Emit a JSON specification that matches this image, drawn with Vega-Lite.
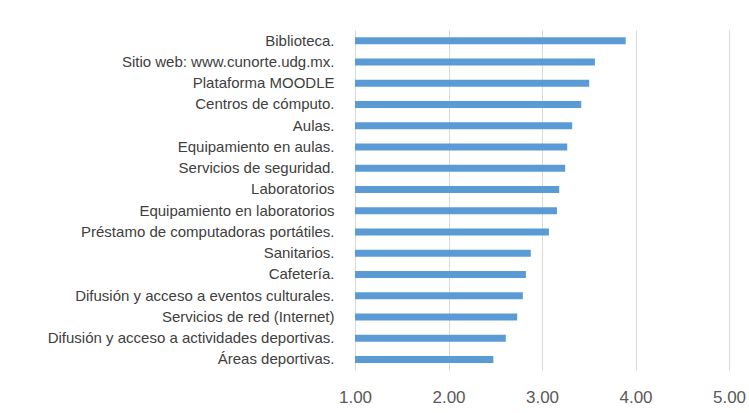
{
  "$schema": "https://vega.github.io/schema/vega-lite/v6.json",
  "width": 374,
  "height": 340,
  "autosize": {"type": "none"},
  "padding": {"left": 355, "top": 30, "right": 20, "bottom": 43},
  "background": "white",
  "config": {"view": {"stroke": null}},
  "data": {"values": [
    {"item": "Biblioteca.", "value": 3.895},
    {"item": "Sitio web: www.cunorte.udg.mx.", "value": 3.566},
    {"item": "Plataforma MOODLE", "value": 3.505},
    {"item": "Centros de cómputo.", "value": 3.42},
    {"item": "Aulas.", "value": 3.323},
    {"item": "Equipamiento en aulas.", "value": 3.27},
    {"item": "Servicios de seguridad.", "value": 3.248},
    {"item": "Laboratorios", "value": 3.184},
    {"item": "Equipamiento en laboratorios", "value": 3.16},
    {"item": "Préstamo de computadoras portátiles.", "value": 3.074},
    {"item": "Sanitarios.", "value": 2.88},
    {"item": "Cafetería.", "value": 2.828},
    {"item": "Difusión y acceso a eventos culturales.", "value": 2.795},
    {"item": "Servicios de red (Internet)", "value": 2.735},
    {"item": "Difusión y acceso a actividades deportivas.", "value": 2.613},
    {"item": "Áreas deportivas.", "value": 2.48}
  ]},
  "mark": {"type": "bar", "color": "#5b9bd5", "size": 7},
  "encoding": {
    "y": {
      "field": "item", "type": "nominal", "sort": null, "title": null,
      "axis": {"ticks": false, "domain": false, "labelPadding": 21, "labelFont": "Liberation Sans", "labelFontSize": 15, "labelColor": "#404040", "labelLimit": 400}
    },
    "x": {
      "field": "value", "type": "quantitative", "title": null,
      "scale": {"domain": [1, 5], "nice": false, "zero": false},
      "axis": {"values": [1, 2, 3, 4, 5], "format": ".2f", "ticks": false, "domain": false, "grid": true, "gridColor": "#d9d9d9", "gridWidth": 1, "labelFlush": false, "labelPadding": 19, "labelFont": "Liberation Sans", "labelFontSize": 17, "labelColor": "#595959"}
    },
    "x2": {"datum": 1}
  }
}
